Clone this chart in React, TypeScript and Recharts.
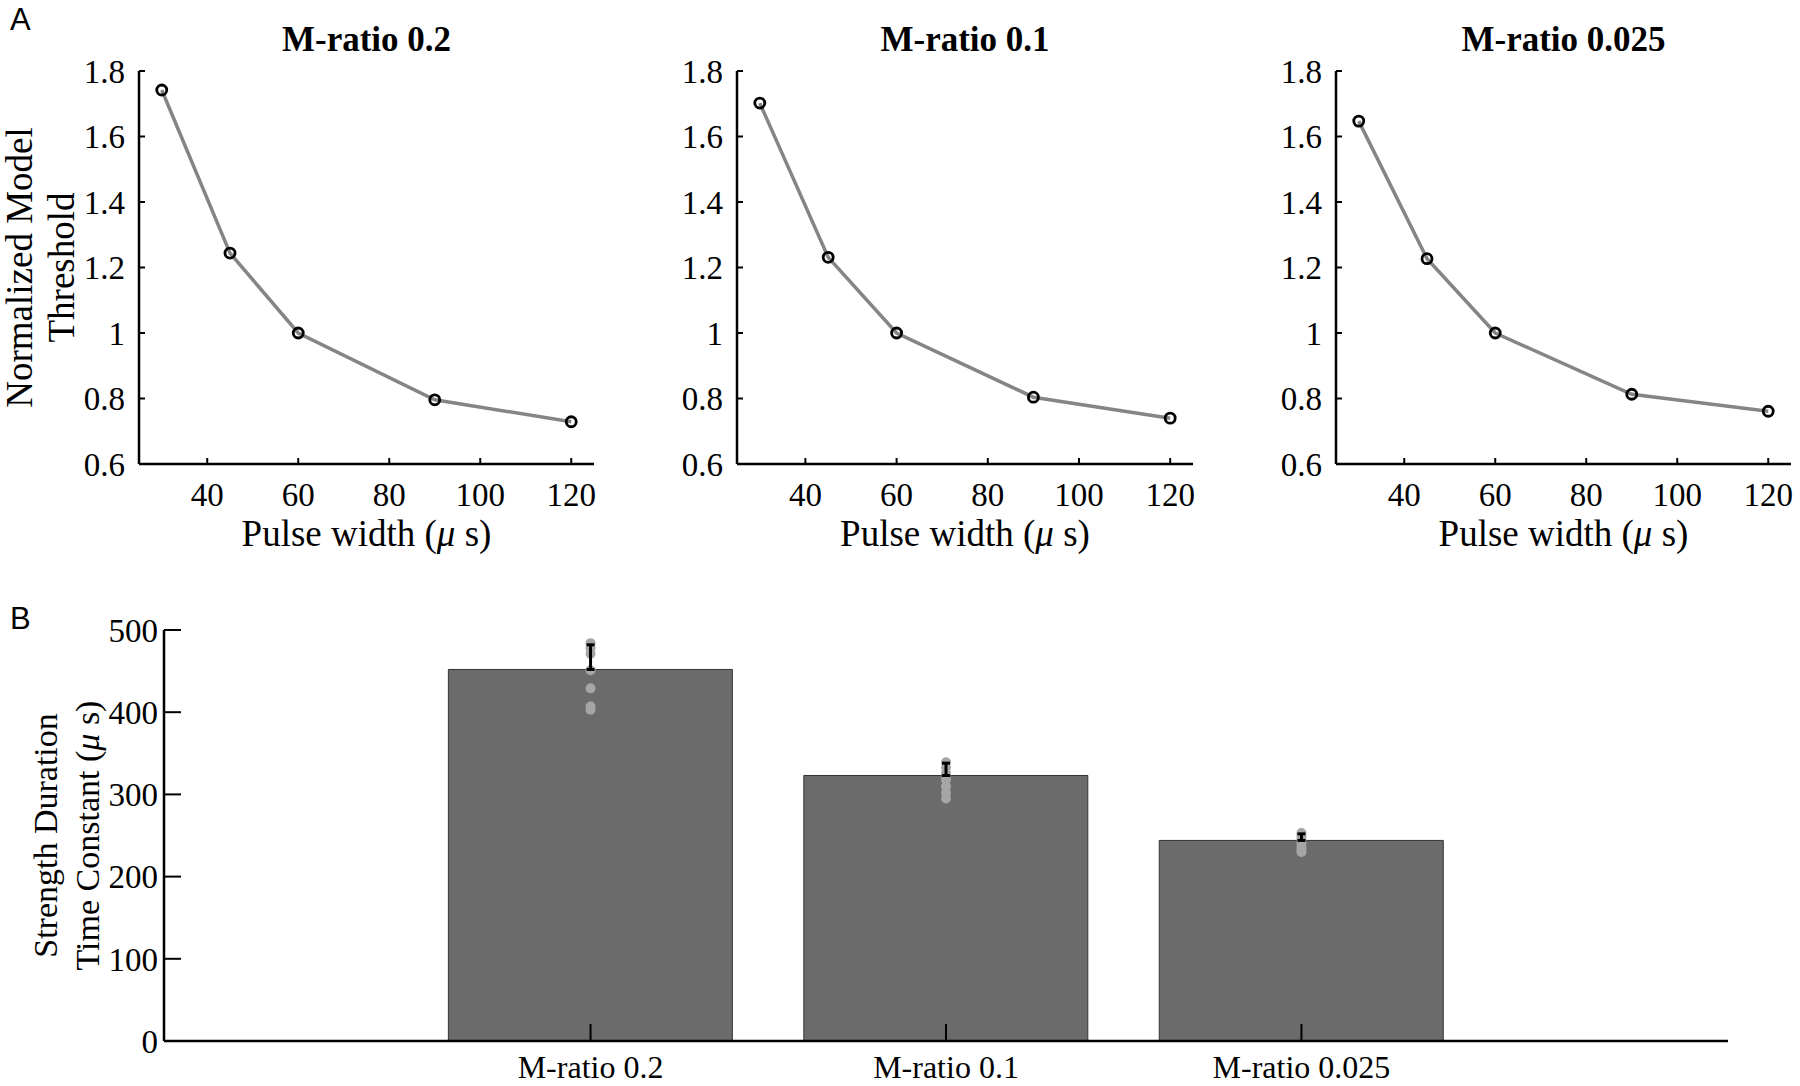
import { LineChart, Line, XAxis, YAxis, ComposedChart, Bar, Scatter, ErrorBar, Label } from "recharts"

// Panel A: normalized threshold vs pulse width
const pulseWidths = [30, 45, 60, 90, 120]
const threshold02 = [1.742, 1.244, 1.0, 0.796, 0.729]
const threshold01 = [1.702, 1.231, 1.0, 0.804, 0.74]
const threshold0025 = [1.647, 1.227, 1.0, 0.813, 0.761]
const pwTicks = [40, 60, 80, 100, 120]
const thrTicks = [0.6, 0.8, 1, 1.2, 1.4, 1.6, 1.8]

// Panel B: strength-duration time constant
const mRatios = ["M-ratio 0.2", "M-ratio 0.1", "M-ratio 0.025"]
const tauMeans = [452, 323, 244]
const tauErrUp = [30, 15, 8]
const tau02 = [484, 478, 471, 451, 429, 407, 403]
const tau01 = [339, 333, 326, 318, 310, 302, 295]
const tau0025 = [253, 250, 246, 241, 237, 233, 230]
const tauTicks = [0, 100, 200, 300, 400, 500]

const SERIF = "'Liberation Serif', 'Times New Roman', serif"
const SANS = "'Liberation Sans', Arial, sans-serif"

const axisStyle = { stroke: "#000", strokeWidth: 2.5 }
const tickLineStyle = { stroke: "#000", strokeWidth: 2 }

const panelsA = [
  { title: "M-ratio 0.2", values: threshold02, left: 0, width: 620, yw: 139, mr: 26, yLabel: true },
  { title: "M-ratio 0.1", values: threshold01, left: 620, width: 600, yw: 117, mr: 27, yLabel: false },
  { title: "M-ratio 0.025", values: threshold0025, left: 1220, width: 580, yw: 116, mr: 9, yLabel: false },
]

const PulseLabel = (props: any) => {
  const { viewBox } = props
  const cx = viewBox.x + viewBox.width / 2
  return (
    <text x={cx} y={viewBox.y + 82} textAnchor="middle" fontSize={37} fontFamily={SERIF} fill="#000">
      Pulse width (<tspan fontStyle="italic">μ</tspan> s)
    </text>
  )
}

const twoLineYLabel = (lines: string[], xs: number[], size: number) => (props: any) => {
  const { viewBox } = props
  const cy = viewBox.y + viewBox.height / 2
  return (
    <text transform={`translate(0, ${cy}) rotate(-90)`} textAnchor="middle" fontSize={size} fontFamily={SERIF} fill="#000">
      {lines.map((l, i) => (
        <tspan key={i} x={0} y={xs[i]}>
          {l.includes("μ") ? (
            <>
              {l.split("μ")[0]}
              <tspan fontStyle="italic">μ</tspan>
              {l.split("μ")[1]}
            </>
          ) : (
            l
          )}
        </tspan>
      ))}
    </text>
  )
}

function ThresholdPanel({ p }: { p: (typeof panelsA)[number] }) {
  const data = pulseWidths.map((pw, i) => ({ pw, v: p.values[i] }))
  const plotW = p.width - p.yw - p.mr
  return (
    <div style={{ position: "absolute", left: p.left, top: 0, width: p.width, height: 580 }}>
      <div
        style={{
          position: "absolute",
          left: p.yw,
          width: plotW,
          top: 22,
          textAlign: "center",
          fontFamily: SERIF,
          fontWeight: "bold",
          fontSize: 35,
          lineHeight: "35px",
          zIndex: 2,
        }}
      >
        {p.title}
      </div>
      <LineChart width={p.width} height={580} data={data} margin={{ top: 71, right: p.mr, left: 0, bottom: 26 }}>
        <XAxis
          type="number"
          dataKey="pw"
          domain={[25, 125]}
          ticks={pwTicks}
          interval={0}
          height={90}
          axisLine={axisStyle}
          tickLine={tickLineStyle}
          tickSize={-6}
          tickMargin={25}
          tick={{ fill: "#000", fontSize: 33, fontFamily: SERIF }}
        >
          <Label content={PulseLabel} />
        </XAxis>
        <YAxis
          type="number"
          domain={[0.6, 1.8]}
          ticks={thrTicks}
          interval={0}
          width={p.yw}
          axisLine={axisStyle}
          tickLine={tickLineStyle}
          tickSize={-6}
          tickMargin={20}
          tick={{ fill: "#000", fontSize: 33, fontFamily: SERIF }}
        >
          {p.yLabel && <Label content={twoLineYLabel(["Normalized Model", "Threshold"], [32, 74], 37)} />}
        </YAxis>
        <Line
          type="linear"
          dataKey="v"
          stroke="#858585"
          strokeWidth={3.5}
          dot={{ r: 5, stroke: "#000", strokeWidth: 2.8, fill: "none" }}
          isAnimationActive={false}
        />
      </LineChart>
    </div>
  )
}

function TimeConstantPanel() {
  const barData = mRatios.map((name, i) => ({ x: i + 1, name, mean: tauMeans[i], err: [0, tauErrUp[i]] }))
  const dots = [tau02, tau01, tau0025].flatMap((vals, i) => vals.map((y) => ({ x: i + 1, y })))
  const anyProps: any = {}
  return (
    <div style={{ position: "absolute", left: 0, top: 590, width: 1800, height: 496 }}>
      <ComposedChart
        width={1800}
        height={496}
        data={barData}
        margin={{ top: 40, right: 72, left: 0, bottom: 5 }}
        barCategoryGap="10%"
      >
        <Bar dataKey="mean" fill="#6b6b6b" stroke="#333" strokeWidth={1} isAnimationActive={false} />
        <XAxis
          type="number"
          dataKey="x"
          domain={[-0.2, 4.2]}
          ticks={[1, 2, 3]}
          interval={0}
          tickFormatter={(v: number) => mRatios[v - 1]}
          height={40}
          axisLine={axisStyle}
          tickLine={tickLineStyle}
          tickSize={-17}
          tickMargin={31}
          tick={{ fill: "#000", fontSize: 32, fontFamily: SERIF }}
        />
        <YAxis
          type="number"
          domain={[0, 500]}
          ticks={tauTicks}
          interval={0}
          width={164}
          axisLine={axisStyle}
          tickLine={tickLineStyle}
          tickSize={-17}
          tickMargin={23}
          tick={{ fill: "#000", fontSize: 33, fontFamily: SERIF }}
        >
          <Label content={twoLineYLabel(["Strength Duration", "Time Constant (μ s)"], [57, 99], 34)} />
        </YAxis>
        <Scatter
          data={dots}
          dataKey="y"
          shape={(s: any) => <circle cx={s.cx} cy={s.cy} r={5} fill="#a6a6a6" />}
          isAnimationActive={false}
          {...anyProps}
          zIndex={350}
        />
        <Scatter data={barData} dataKey="mean" shape={() => <g />} isAnimationActive={false} {...anyProps} zIndex={800}>
          <ErrorBar dataKey="err" direction="y" width={4} stroke="#000" strokeWidth={3} {...anyProps} zIndex={900} />
        </Scatter>
      </ComposedChart>
    </div>
  )
}

export default function App() {
  return (
    <div style={{ position: "absolute", left: 0, top: 0, width: 1800, height: 1086, background: "#fff" }}>
      <div style={{ position: "absolute", left: 10, top: 4, fontFamily: SANS, fontSize: 31, lineHeight: "31px", zIndex: 2 }}>A</div>
      <div style={{ position: "absolute", left: 10, top: 603, fontFamily: SANS, fontSize: 31, lineHeight: "31px", zIndex: 2 }}>B</div>
      {panelsA.map((p) => (
        <ThresholdPanel key={p.title} p={p} />
      ))}
      <TimeConstantPanel />
    </div>
  )
}
